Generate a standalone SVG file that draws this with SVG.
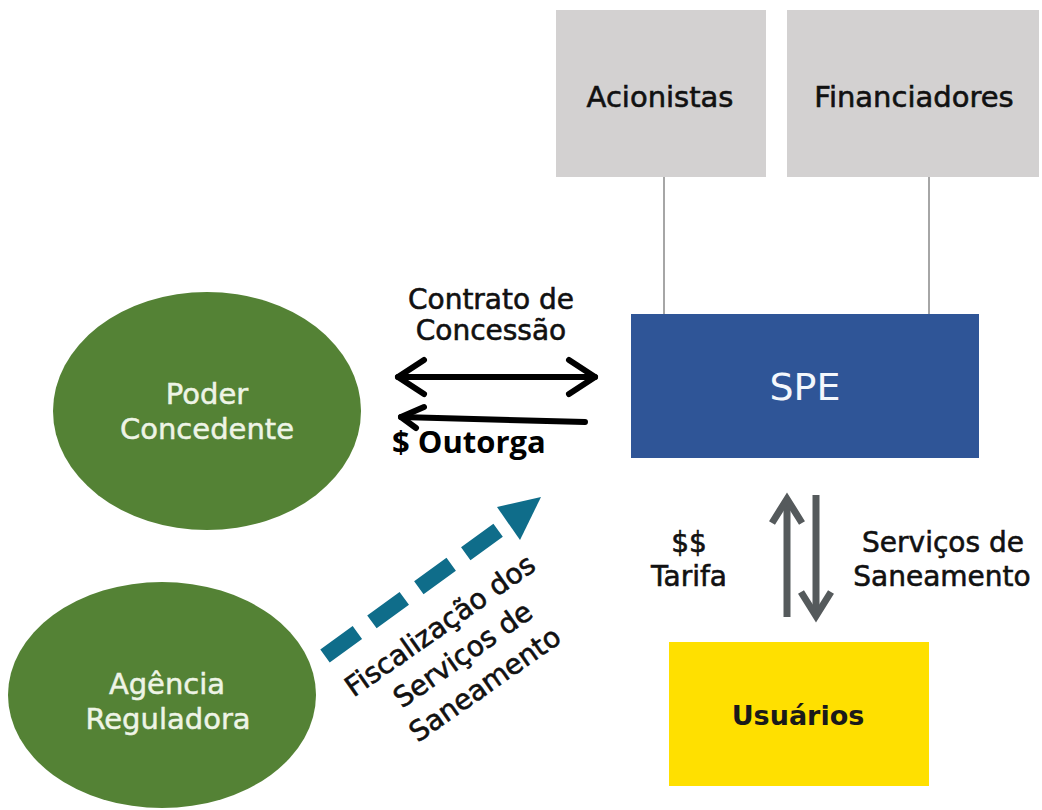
<svg xmlns="http://www.w3.org/2000/svg" width="1042" height="810" viewBox="0 0 1042 810">
<style>
.t{font-family:"DejaVu Sans",Verdana,sans-serif;text-anchor:middle}
.dark{fill:#111111;stroke:#111111;stroke-width:0.6}
.light{fill:#eef4e6;stroke:#eef4e6;stroke-width:0.5}
.green{fill:#548235}
.box{fill:#d3d1d1}
.blk{stroke:#000;stroke-width:6;fill:none;stroke-linecap:round;stroke-linejoin:round}
.gry{stroke:#555a5c;stroke-width:7;fill:none;stroke-linejoin:miter}
.conn{stroke:#a6a6a6;stroke-width:2}
</style>
<rect width="1042" height="810" fill="#ffffff"/>
<g id="connectors">
  <line class="conn" x1="664" y1="177" x2="664" y2="314"/>
  <line class="conn" x1="929" y1="177" x2="929" y2="314"/>
  <g id="contrato">
    <line class="blk" x1="398" y1="377" x2="595" y2="377"/>
    <polyline class="blk" points="424,360 398,377 424,394"/>
    <polyline class="blk" points="569,360 595,377 569,394"/>
  </g>
  <g id="outorga">
    <line class="blk" x1="585" y1="422" x2="401" y2="417"/>
    <polyline class="blk" points="424,407 401,417 416,428"/>
  </g>
  <g id="fiscalizacao">
    <line x1="325" y1="656" x2="508" y2="523" stroke="#0f6d8a" stroke-width="16" stroke-dasharray="40 18"/>
    <polygon points="541,497 497,507 520,540" fill="#0f6d8a"/>
  </g>
  <g id="tarifa">
    <line class="gry" x1="787" y1="617" x2="787" y2="499"/>
    <polyline class="gry" points="772,523 787,499 802,523"/>
  </g>
  <g id="servicos">
    <line class="gry" x1="816" y1="495" x2="816" y2="616"/>
    <polyline class="gry" points="801,592 816,616 831,592"/>
  </g>
  <text class="t dark" x="491" y="309" font-size="28">Contrato de</text>
  <text class="t dark" x="491" y="340" font-size="28">Concessão</text>
  <text x="392" y="453" font-family="'Open Sans',sans-serif" font-weight="700" font-size="31" fill="#000">$ Outorga</text>
  <g transform="translate(443,635) rotate(-35)">
    <text class="t dark" x="3" y="0" font-size="28">Fiscalização dos</text>
    <text class="t dark" x="5" y="37" font-size="28">Serviços de</text>
    <text class="t dark" x="6" y="74" font-size="28">Saneamento</text>
  </g>
  <text class="t dark" x="689" y="552" font-size="28">$$</text>
  <text class="t dark" x="689" y="586" font-size="28">Tarifa</text>
  <text class="t dark" x="943" y="552" font-size="28">Serviços de</text>
  <text class="t dark" x="942" y="586" font-size="28">Saneamento</text>
</g>
<g id="acionistas">
  <rect class="box" x="556" y="10" width="210" height="167"/>
  <text class="t dark" x="660" y="107" font-size="29">Acionistas</text>
</g>
<g id="financiadores">
  <rect class="box" x="787" y="10" width="252" height="167"/>
  <text class="t dark" x="914" y="107" font-size="29">Financiadores</text>
</g>
<g id="spe">
  <rect x="631" y="314" width="348" height="144" fill="#2f5597"/>
  <text class="t" x="805" y="400" font-size="38" fill="#f4f7fc">SPE</text>
</g>
<g id="poder-concedente">
  <ellipse class="green" cx="207" cy="411" rx="154" ry="119"/>
  <text class="t light" x="207" y="404" font-size="29">Poder</text>
  <text class="t light" x="207" y="439" font-size="29">Concedente</text>
</g>
<g id="agencia-reguladora">
  <ellipse class="green" cx="162" cy="695" rx="154" ry="113"/>
  <text class="t light" x="167" y="694" font-size="29">Agência</text>
  <text class="t light" x="168" y="729" font-size="29">Reguladora</text>
</g>
<g id="usuarios">
  <rect x="669" y="642" width="260" height="144" fill="#ffe000"/>
  <text class="t" x="798" y="725" font-size="27" font-weight="700" fill="#1a1a1a">Usuários</text>
</g>
</svg>
